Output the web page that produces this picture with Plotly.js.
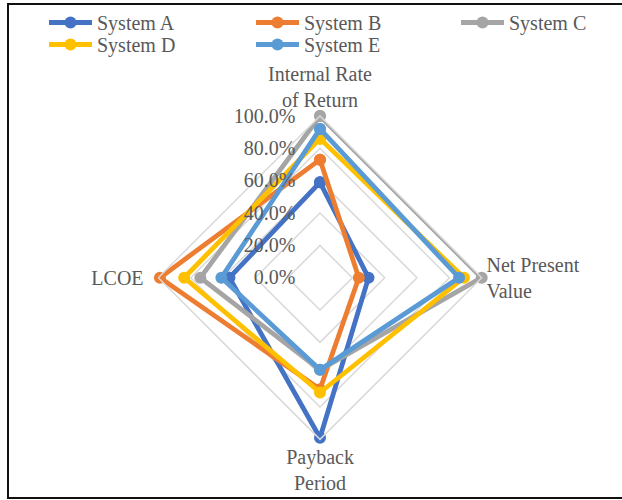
<!DOCTYPE html>
<html>
<head>
<meta charset="utf-8">
<script src="https://cdn.plot.ly/plotly-3.0.1.min.js"></script>
<style>
html,body{margin:0;padding:0;background:#fff;}
#wrap{position:relative;width:622px;height:500px;overflow:hidden;}
#chart{width:622px;height:500px;}
#frame{position:absolute;left:7px;top:3px;width:640px;height:492px;border-left:2.5px solid #111;border-top:2.5px solid #111;border-bottom:2.5px solid #111;pointer-events:none;}
</style>
</head>
<body>
<div id="wrap"><div id="chart"></div><div id="frame"></div></div>
<script>
const categories = ["Internal Rate<br>of Return", "Net Present<br>Value", "Payback<br>Period", "LCOE\u00a0\u00a0"];
const seriesNames = ["System A", "System B", "System C", "System D", "System E"];
const systemA = [0.59, 0.30, 0.99, 0.56];
const systemB = [0.73, 0.24, 0.69, 0.99];
const systemC = [1.00, 1.00, 0.57, 0.74];
const systemD = [0.86, 0.89, 0.71, 0.84];
const systemE = [0.92, 0.86, 0.57, 0.61];
const colors = ["#4472C4", "#ED7D31", "#A5A5A5", "#FFC000", "#5B9BD5"];
const radialTicks = [0, 0.2, 0.4, 0.6, 0.8, 1.0];
const legendIds = ["legend", "legend2", "legend3", "legend4", "legend5"];

const allSeries = [systemA, systemB, systemC, systemD, systemE];
const traces = allSeries.map((vals, i) => ({
  type: "scatterpolar",
  mode: "lines+markers",
  name: seriesNames[i],
  legend: legendIds[i],
  r: vals.concat([vals[0]]),
  theta: categories.concat([categories[0]]),
  line: {color: colors[i], width: 4.8},
  marker: {color: colors[i], size: 12, symbol: "circle"},
  cliponaxis: false
}));

const FAM = "Liberation Serif";
const font = {family: FAM, size: 20, color: "#595959"};

function legendAt(px, py) {
  return {
    orientation: "v",
    x: px / 622, y: 1 - py / 500, xanchor: "left", yanchor: "top",
    bgcolor: "rgba(0,0,0,0)",
    font: font, itemwidth: 43, tracegroupgap: 0
  };
}

const layout = {
  width: 622, height: 500,
  margin: {l: 0, r: 0, t: 0, b: 0},
  paper_bgcolor: "#fff",
  font: font,
  showlegend: true,
  legend: legendAt(44, 3),
  legend2: legendAt(251, 3),
  legend3: legendAt(456, 3),
  legend4: legendAt(44, 25),
  legend5: legendAt(251, 25),
  polar: {
    domain: {x: [158.3/622, 481.7/622], y: [1 - 439.4/500, 1 - 116/500]},
    bgcolor: "rgba(0,0,0,0)",
    gridshape: "linear",
    radialaxis: {
      range: [0, 1],
      tickvals: radialTicks,
      tickformat: ".1%",
      angle: 90,
      tickangle: 90,
      side: "counterclockwise",
      showline: false,
      ticks: "outside",
      ticklen: 17,
      tickcolor: "rgba(0,0,0,0)",
      gridcolor: "#d9d9d9",
      gridwidth: 1.5,
      tickfont: font
    },
    angularaxis: {
      rotation: 90,
      direction: "clockwise",
      showgrid: false,
      showline: true,
      linecolor: "#d9d9d9",
      linewidth: 1.5,
      ticks: "",
      tickfont: font
    }
  }
};

Plotly.newPlot("chart", traces, layout, {displayModeBar: false, staticPlot: true});
</script>
</body>
</html>
